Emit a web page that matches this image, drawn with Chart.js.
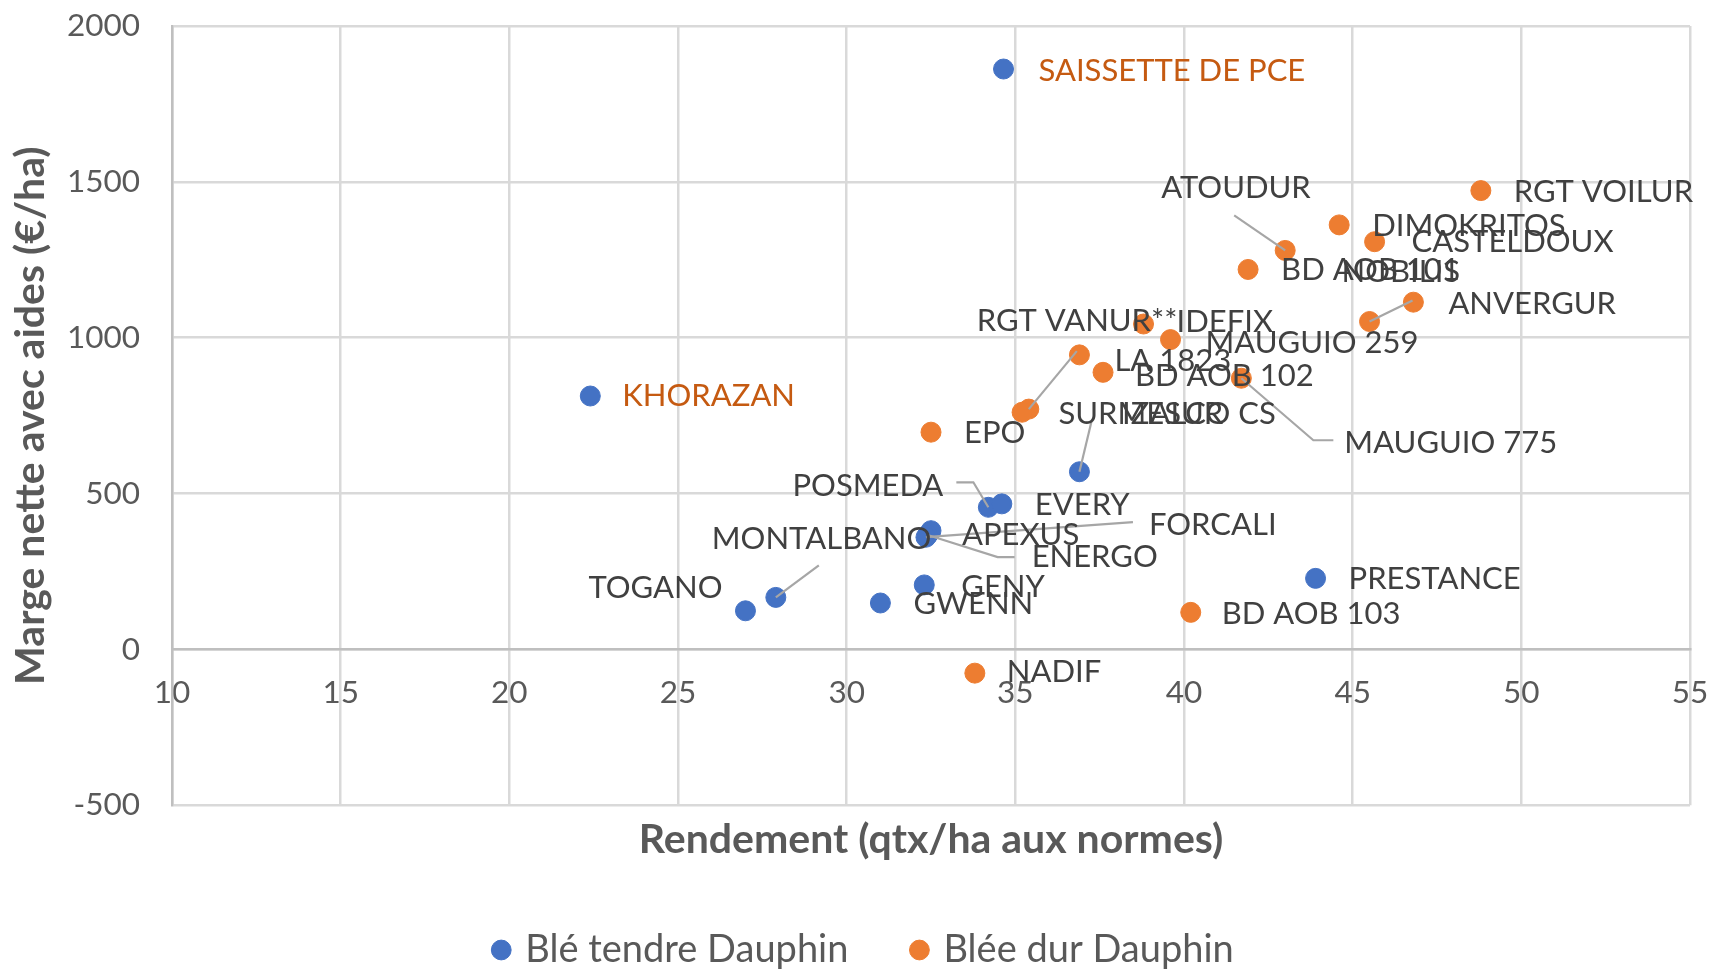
<!DOCTYPE html>
<html>
<head>
<meta charset="utf-8">
<title>Marge nette avec aides / Rendement</title>
<script src="https://cdn.jsdelivr.net/npm/chart.js@4.4.1/dist/chart.umd.min.js"></script>
<style>
  html, body { margin: 0; padding: 0; background: #fff; overflow: hidden; }
  #chart { display: block; }
</style>
</head>
<body>
<canvas id="chart" width="1711" height="970"></canvas>
<script>
// Blé tendre Dauphin
const tendreNames = ['SAISSETTE DE PCE', 'KHORAZAN', 'SURMESUR', 'POSMEDA', 'EVERY', 'APEXUS',
    'ENERGO', 'FORCALI', 'MONTALBANO', 'TOGANO', 'GWENN', 'GENY', 'PRESTANCE'];
const tendreRendement = [34.65, 22.4, 36.9, 34.2, 34.6, 32.5, 32.4, 32.35, 27.9, 27.0, 31.0, 32.3, 43.9];
const tendreMarge = [1862, 813, 570, 456, 467, 381, 367, 360, 167, 124, 149, 207, 228];

// Blée dur Dauphin
const durNames = ['RGT VOILUR', 'DIMOKRITOS', 'CASTELDOUX', 'ATOUDUR', 'BD AOB 101', 'NOBILIS',
    'ANVERGUR', 'MAUGUIO 259', 'IDEFIX', 'LA 1823', 'BD AOB 102', 'MAUGUIO 775', 'RGT VANUR**',
    'IZALCO CS', 'EPO', 'BD AOB 103', 'NADIF'];
const durRendement = [48.8, 44.6, 45.65, 43.0, 41.9, 45.5, 46.8, 39.6, 38.8, 36.9, 37.6, 41.7, 35.4,
    35.2, 32.5, 40.2, 33.8];
const durMarge = [1472, 1362, 1308, 1280, 1219, 1052, 1114, 994, 1044, 945, 889, 870, 771,
    761, 697, 119, -76];

const seriesNames = ['Blé tendre Dauphin', 'Blée dur Dauphin'];

// where each data label sits, relative to its point (px); default is just right of the point
const labelLayout = {
    'SAISSETTE DE PCE': {dx: 35, dy: 2, color: '#c55a11'},
    'KHORAZAN': {dx: 32, dy: 0, color: '#c55a11'},
    'SURMESUR': {dx: -21, dy: -58, leader: [[12, -50]]},
    'POSMEDA': {dx: -45, dy: -21, align: 'right', leader: [[-15, -25], [-32, -25]]},
    'APEXUS': {dx: 31, dy: 4},
    'ENERGO': {dx: 104, dy: 22, leader: [[70, 22], [87, 22]]},
    'FORCALI': {dx: 223, dy: -12, leader: [[207, -15]]},
    'MONTALBANO': {dx: -64, dy: -58, leader: [[43, -32]]},
    'TOGANO': {dx: -23, dy: -23, align: 'right'},
    'GENY': {dx: 37, dy: 2},
    'CASTELDOUX': {dx: 37, dy: 0},
    'ATOUDUR': {dx: -124, dy: -62, leader: [[-51, -35]]},
    'NOBILIS': {dx: -28, dy: -50, leader: [[43, -21]]},
    'ANVERGUR': {dx: 35, dy: 2},
    'MAUGUIO 259': {dx: 35, dy: 3},
    'IDEFIX': {dx: 33, dy: -2},
    'LA 1823': {dx: 35, dy: 6},
    'BD AOB 102': {dx: 32, dy: 4},
    'MAUGUIO 775': {dx: 103, dy: 65, leader: [[72, 62], [92, 62]]},
    'RGT VANUR**': {dx: -52, dy: -88, leader: [[48, -58]]},
    'IZALCO CS': {dx: 100, dy: 2},
    'BD AOB 103': {dx: 31, dy: 2},
    'NADIF': {dx: 32, dy: -1}
};

const FONT = 'Lato, "Liberation Sans", sans-serif';
const textGrey = '#595959';

function toPoints(xs, ys) {
    return xs.map((x, i) => ({x: x, y: ys[i]}));
}

const pointLabels = {
    id: 'pointLabels',
    afterDatasetsDraw(chart) {
        const ctx = chart.ctx;
        const names = [tendreNames, durNames];
        const items = [];
        chart.data.datasets.forEach((ds, di) => {
            chart.getDatasetMeta(di).data.forEach((pt, i) => {
                const name = names[di][i];
                items.push({pt: pt, name: name, lay: Object.assign({dx: 33, dy: 1}, labelLayout[name])});
            });
        });

        ctx.save();
        // leader lines first
        ctx.strokeStyle = '#a6a6a6';
        ctx.lineWidth = 2.2;
        items.forEach(it => {
            if (!it.lay.leader) return;
            ctx.beginPath();
            ctx.moveTo(it.pt.x, it.pt.y);
            it.lay.leader.forEach(p => ctx.lineTo(it.pt.x + p[0], it.pt.y + p[1]));
            ctx.stroke();
        });

        ctx.font = '31px ' + FONT;
        ctx.textBaseline = 'middle';
        items.forEach(it => {
            ctx.fillStyle = it.lay.color || '#404040';
            ctx.textAlign = it.lay.align || 'left';
            ctx.fillText(it.name, it.pt.x + it.lay.dx, it.pt.y + it.lay.dy);
        });
        ctx.restore();
    }
};

// the legend row sits a little right of centre in the original
const legendShift = {
    id: 'legendShift',
    afterLayout(chart) {
        chart.legend.left += 20;
        chart.legend.right += 20;
    }
};

Chart.defaults.font.family = FONT;
Chart.defaults.color = textGrey;

new Chart(document.getElementById('chart'), {
    type: 'scatter',
    data: {
        datasets: [{
            label: seriesNames[0],
            data: toPoints(tendreRendement, tendreMarge),
            backgroundColor: '#4472c4',
            borderColor: '#4472c4',
            pointRadius: 10,
            borderWidth: 1
        }, {
            label: seriesNames[1],
            data: toPoints(durRendement, durMarge),
            backgroundColor: '#ed7d31',
            borderColor: '#ed7d31',
            pointRadius: 10,
            borderWidth: 1
        }]
    },
    options: {
        responsive: false,
        animation: false,
        devicePixelRatio: 1,
        layout: {
            padding: {left: 0, right: 21, top: 26, bottom: -9}
        },
        plugins: {
            tooltip: {enabled: false},
            legend: {
                position: 'bottom',
                labels: {
                    usePointStyle: true,
                    pointStyle: 'circle',
                    boxWidth: 10,
                    boxHeight: 14,
                    padding: 66,
                    color: textGrey,
                    font: {size: 38}
                }
            }
        },
        scales: {
            x: {
                type: 'linear',
                position: {y: 0},
                min: 10,
                max: 55,
                ticks: {stepSize: 5, padding: 25, font: {size: 31.5}, color: textGrey},
                grid: {color: '#d9d9d9', lineWidth: 2.5, drawTicks: false},
                border: {color: '#bfbfbf', width: 2.5},
                afterFit(scale) {
                    scale.paddingLeft = 0;
                    scale.paddingRight = 0;
                }
            },
            xTitle: {
                type: 'linear',
                position: 'bottom',
                axis: 'x',
                min: 10,
                max: 55,
                ticks: {display: false},
                grid: {display: false},
                border: {display: false},
                title: {
                    display: true,
                    text: 'Rendement (qtx/ha aux normes)',
                    color: textGrey,
                    font: {size: 41, weight: 'bold'},
                    padding: {top: 1.5, bottom: 1}
                },
                afterFit(scale) {
                    scale.paddingLeft = 0;
                    scale.paddingRight = 0;
                }
            },
            y: {
                type: 'linear',
                min: -500,
                max: 2000,
                ticks: {
                    stepSize: 500,
                    padding: 32,
                    font: {size: 31.5},
                    color: textGrey,
                    callback: value => String(value)
                },
                grid: {color: '#d9d9d9', lineWidth: 2.5, drawTicks: false},
                border: {color: '#bfbfbf', width: 2.5},
                title: {
                    display: true,
                    text: 'Marge nette avec aides (€/ha)',
                    color: textGrey,
                    font: {size: 41, weight: 'bold'},
                    padding: {top: 6, bottom: 0}
                },
                afterFit(scale) {
                    scale.width = 172;
                    scale.paddingTop = 0;
                    scale.paddingBottom = 0;
                }
            }
        }
    },
    plugins: [pointLabels, legendShift]
});
</script>
</body>
</html>
